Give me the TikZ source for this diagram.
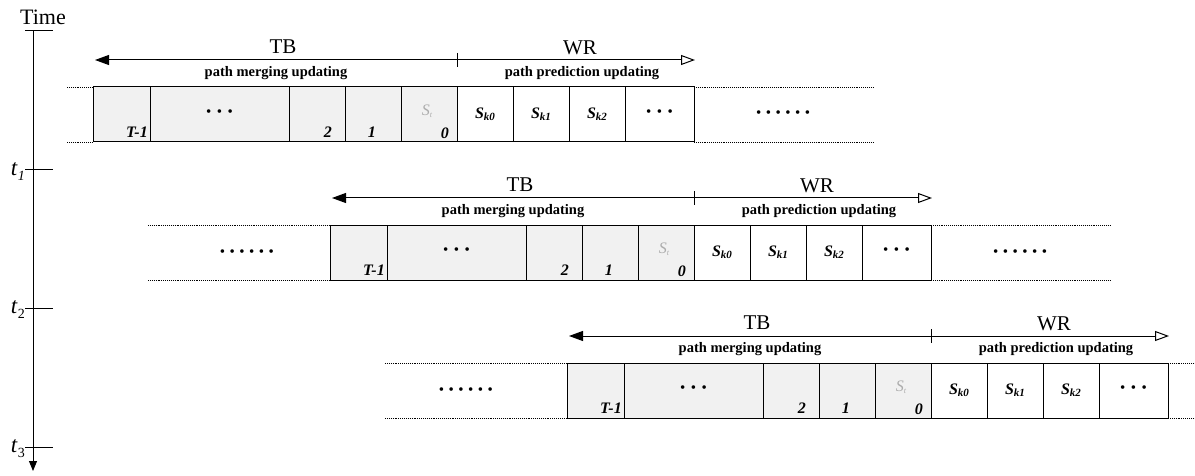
\documentclass[tikz,border=0pt]{standalone}
\usepackage{fontspec}
\setmainfont{Liberation Serif}
\usetikzlibrary{arrows.meta}
\tikzset{
  cell/.style={draw, line width=1pt, minimum height=55pt, inner sep=0pt, anchor=north west, outer sep=0pt},
  tbcell/.style={cell, fill=gray!11},
  wrcell/.style={cell, fill=white},
  lbl/.style={font=\fontsize{16}{16}\selectfont\bfseries\itshape, inner sep=1pt},
  stlbl/.style={font=\fontsize{16}{16}\selectfont\itshape, text=gray!65, inner sep=1pt},
  dots/.style={font=\fontsize{15}{15}\selectfont, inner sep=0pt},
  dotline/.style={densely dotted, line width=0.9pt},
  big/.style={font=\fontsize{21}{21}\selectfont, inner sep=0pt},
  sub/.style={font=\fontsize{14.5}{14.5}\selectfont\bfseries, inner sep=0pt},
  axis/.style={line width=1pt},
}
\newcommand\threedots{\textbullet\hspace{5.5pt}\textbullet\hspace{5.5pt}\textbullet}
\newcommand\sixdots{\textbullet\hspace{4.5pt}\textbullet\hspace{4.5pt}\textbullet\hspace{4.5pt}\textbullet\hspace{4.5pt}\textbullet\hspace{4.5pt}\textbullet}
\newcommand\myrow[3]{%
\begin{scope}[shift={(#2,#3)}]
  \node[tbcell, minimum width=57pt] (#1a) at (93,87) {};
  \node[tbcell, minimum width=139pt] (#1b) at (150,87) {};
  \node[tbcell, minimum width=56pt] (#1c) at (289,87) {};
  \node[tbcell, minimum width=56pt] (#1d) at (345,87) {};
  \node[tbcell, minimum width=56pt] (#1e) at (401,87) {};
  \node[wrcell, minimum width=56pt] (#1f) at (457,87) {};
  \node[wrcell, minimum width=56pt] (#1g) at (513,87) {};
  \node[wrcell, minimum width=56pt] (#1h) at (569,87) {};
  \node[wrcell, minimum width=69pt] (#1i) at (625,87) {};
  \node[lbl, anchor=south east] (#1la) at ([xshift=-1pt,yshift=3pt]#1a.south east) {T-1};
  \node[dots] (#1lb) at ([yshift=1pt]#1b.center) {\threedots};
  \node[lbl, anchor=south east] (#1lc) at ([xshift=-12pt,yshift=3pt]#1c.south east) {2};
  \node[lbl, anchor=south east] (#1ld) at ([xshift=-24pt,yshift=3pt]#1d.south east) {1};
  \node[stlbl] (#1st) at ([xshift=-2pt,yshift=3pt]#1e.center) {S\raisebox{-2pt}{\fontsize{8}{8}\selectfont t}};
  \node[lbl, anchor=south east] (#1le) at ([xshift=-7pt,yshift=2pt]#1e.south east) {0};
  \node[lbl] (#1lf) at (#1f.center) {S\raisebox{-2pt}{\fontsize{11}{11}\selectfont k0}};
  \node[lbl] (#1lg) at (#1g.center) {S\raisebox{-2pt}{\fontsize{11}{11}\selectfont k1}};
  \node[lbl] (#1lh) at (#1h.center) {S\raisebox{-2pt}{\fontsize{11}{11}\selectfont k2}};
  \node[dots] (#1li) at ([yshift=1pt]#1i.center) {\threedots};
  \coordinate (#1tl) at (95,60);
  \coordinate (#1tm) at (457,60);
  \coordinate (#1tr) at (695,60);
  \draw[line width=1pt, -{Triangle[length=14pt,width=10pt]}] (#1tm) -- (#1tl);
  \draw[line width=1pt, -{Triangle[open,length=14pt,width=10pt,line width=1pt]}] (#1tm) -- (#1tr);
  \draw[line width=0.6pt] ([yshift=7pt]#1tm) -- ([yshift=-7pt]#1tm);
  \node[big] (#1tb) at (283,47) {TB};
  \node[big] (#1wr) at (580,48) {WR};
  \node[sub] (#1pm) at (276,73) {path merging updating};
  \node[sub] (#1pp) at (582,73) {path prediction updating};
\end{scope}}
\begin{document}
\begin{tikzpicture}[x=1pt,y=-1pt]
\useasboundingbox (0,0) rectangle (1195,476);
% time axis
\coordinate (ax0) at (33,31);
\coordinate (ax1) at (33,471);
\draw[axis] (25,31) -- (53,31);
\draw[axis, -{Triangle[length=10pt,width=8pt]}] (ax0) -- (ax1);
\node[big, anchor=base, font=\fontsize{22}{22}\selectfont] (time) at (43,25) {Time};
\draw[axis] (25,170) -- (53,170);
\draw[axis] (25,308) -- (53,308);
\draw[axis] (25,447) -- (53,447);
\node[big, anchor=east, font=\fontsize{23}{23}\selectfont] (t1) at (25,172) {\textit{t}\raisebox{-5pt}{\fontsize{14}{14}\selectfont\textit{1}}};
\node[big, anchor=east, font=\fontsize{23}{23}\selectfont] (t2) at (25,310) {\textit{t}\raisebox{-5pt}{\fontsize{14}{14}\selectfont 2}};
\node[big, anchor=east, font=\fontsize{23}{23}\selectfont] (t3) at (25,449) {\textit{t}\raisebox{-5pt}{\fontsize{14}{14}\selectfont 3}};
% rows
\myrow{ra}{0}{0}
\myrow{rb}{237}{138}
\myrow{rc}{474}{276}
% row 1 dotted
\coordinate (ral1) at (67,87); \coordinate (ral2) at (67,142);
\coordinate (rar1) at (873,87); \coordinate (rar2) at (873,142);
\draw[dotline] (ral1) -- (raa.north west);
\draw[dotline] (ral2) -- (raa.south west);
\draw[dotline] (rai.north east) -- (rar1);
\draw[dotline] (rai.south east) -- (rar2);
\node[dots] (rad) at (783,114) {\sixdots};
% row 2 dotted
\coordinate (rbl1) at (148,225); \coordinate (rbl2) at (148,280);
\coordinate (rbr1) at (1110,225); \coordinate (rbr2) at (1110,280);
\draw[dotline] (rbl1) -- (rba.north west);
\draw[dotline] (rbl2) -- (rba.south west);
\draw[dotline] (rbi.north east) -- (rbr1);
\draw[dotline] (rbi.south east) -- (rbr2);
\node[dots] (rbd1) at (247,253) {\sixdots};
\node[dots] (rbd2) at (1020,253) {\sixdots};
% row 3 dotted
\coordinate (rcl1) at (385,363); \coordinate (rcl2) at (385,418);
\coordinate (rcr1) at (1195,363); \coordinate (rcr2) at (1195,418);
\draw[dotline] (rcl1) -- (rca.north west);
\draw[dotline] (rcl2) -- (rca.south west);
\draw[dotline] (rci.north east) -- (rcr1);
\draw[dotline] (rci.south east) -- (rcr2);
\node[dots] (rcd1) at (466,391) {\sixdots};
\end{tikzpicture}
\end{document}
